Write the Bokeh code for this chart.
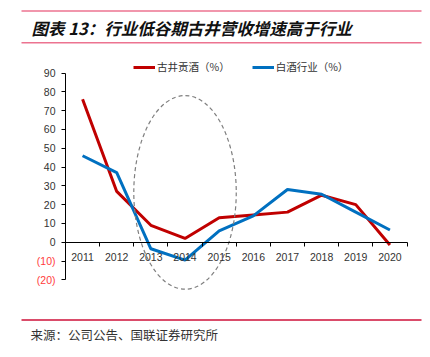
from bokeh.plotting import figure
from bokeh.models import (Range1d, LinearAxis, FixedTicker, Legend, LegendItem, Label, BoxAnnotation)
from bokeh.embed import file_html
from bokeh.resources import INLINE

years = ["2011", "2012", "2013", "2014", "2015", "2016", "2017", "2018", "2019", "2020"]
gujing = [76, 27, 9, 2, 13, 14.5, 16, 25, 20, -1.5]
baijiu = [46, 37, -3.5, -9.5, 6, 14, 28, 25.5, 16, 6.5]
y_ticks_pos = [0, 10, 20, 30, 40, 50, 60, 70, 80, 90]
y_ticks_neg = [-10, -20]
y_neg_labels = {-10: "(10)", -20: "(20)"}
series_names = ["古井贡酒（%）", "白酒行业（%）"]
title_text = "图表 13：行业低谷期古井营收增速高于行业"
source_text = "来源：公司公告、国联证券研究所"
highlight_year = "2014"
highlight_center = 26.5
highlight_height = 103
highlight_span = 3

RED = "#C00000"
BLUE = "#0070C0"

# ---- layout (pixels of the canvas) ----
W, H = 422, 349
X_LEFT_PX, X_RIGHT_PX = 65.0, 406.5      # plot area left / right
Y_TOP_PX, Y_ZERO_PX = 72.5, 241.7        # y=90 and y=0 positions
Y_MIN, Y_MAX = -20, 90
n = len(years)
ppx = (X_RIGHT_PX - X_LEFT_PX) / n
ppy = (Y_ZERO_PX - Y_TOP_PX) / Y_MAX


def dx(px):
    return (px - X_LEFT_PX) / ppx


def dy(py):
    return (Y_ZERO_PX - py) / ppy


xpos = [i + 0.5 for i in range(n)]           # category centres
bounds = list(range(n + 1))                   # category boundaries

p = figure(width=W, height=H, x_range=Range1d(dx(0), dx(W)), y_range=Range1d(dy(H), dy(0)),
           x_axis_type=None, y_axis_type=None, output_backend="svg", toolbar_location=None,
           min_border=0)
p.outline_line_color = None
p.background_fill_color = "white"
p.border_fill_color = "white"

xa = LinearAxis(fixed_location=0, bounds=(0, n), ticker=FixedTicker(ticks=xpos, minor_ticks=bounds),
                major_label_overrides={x: y for x, y in zip(xpos, years)},
                major_tick_line_color=None, major_tick_out=0, major_tick_in=0,
                minor_tick_line_color="black", minor_tick_out=4, minor_tick_in=0,
                axis_line_color="black", axis_line_width=1,
                major_label_text_font="Liberation Sans", major_label_text_font_size="10.5px",
                major_label_text_color="#333333", major_label_standoff=7)
p.add_layout(xa, "below")

ya = LinearAxis(fixed_location=0, bounds=(Y_MIN, Y_MAX), ticker=FixedTicker(ticks=y_ticks_pos + y_ticks_neg),
                axis_line_color="black", major_tick_in=0, major_tick_out=4, minor_tick_line_color=None,
                major_label_text_font="Liberation Sans", major_label_text_font_size="10.5px",
                major_label_text_color="#333333", major_label_overrides={k: "" for k in y_ticks_neg},
                major_label_standoff=6)
p.add_layout(ya, "left")
yb = LinearAxis(fixed_location=0, bounds=(Y_MIN, Y_MAX), ticker=FixedTicker(ticks=y_ticks_neg),
                axis_line_color=None, major_tick_line_color=None, major_tick_in=0, major_tick_out=4,
                minor_tick_line_color=None,
                major_label_text_font="Liberation Sans", major_label_text_font_size="10.5px",
                major_label_text_color="#FF3B3B", major_label_overrides=y_neg_labels,
                major_label_standoff=6)
p.add_layout(yb, "left")

r1 = p.line(xpos, gujing, line_color=RED, line_width=3)
r2 = p.line(xpos, baijiu, line_color=BLUE, line_width=3)

hx = xpos[years.index(highlight_year)]
p.ellipse(x=[hx], y=[highlight_center], width=highlight_span, height=highlight_height,
          fill_color=None, line_color="#7F7F7F", line_dash="4 3", line_width=1.2)

legend = Legend(items=[LegendItem(label=series_names[0], renderers=[r1]),
                       LegendItem(label=series_names[1], renderers=[r2])],
                orientation="horizontal", location=(133, H - 74), border_line_color=None,
                background_fill_alpha=0, glyph_width=22, glyph_height=12, label_standoff=2,
                spacing=22, padding=0, margin=0, label_text_font="Noto Sans CJK SC",
                label_text_font_size="10.5px", label_text_color="#333333", label_height=12)
p.add_layout(legend, "center")

p.add_layout(Label(x=dx(31), y=dy(27), text=title_text,
                   text_font="Noto Sans CJK SC", text_font_size="16.5px", text_font_style="bold italic",
                   text_color="#111111", text_baseline="middle"))
p.add_layout(Label(x=dx(30), y=dy(334), text=source_text,
                   text_font="Noto Sans CJK SC", text_font_size="12.5px",
                   text_color="#333333", text_baseline="middle"))

for py, col, w in [(10.5, "#EC7390", 1.6), (42.3, "#EC7390", 1.6), (319.5, "#CE1139", 1.3)]:
    p.add_layout(BoxAnnotation(left=dx(21), right=dx(421), top=dy(py - w / 2), bottom=dy(py + w / 2),
                               fill_color=col, fill_alpha=1, line_color=None))

open("out.html", "w").write(file_html(p, INLINE))
